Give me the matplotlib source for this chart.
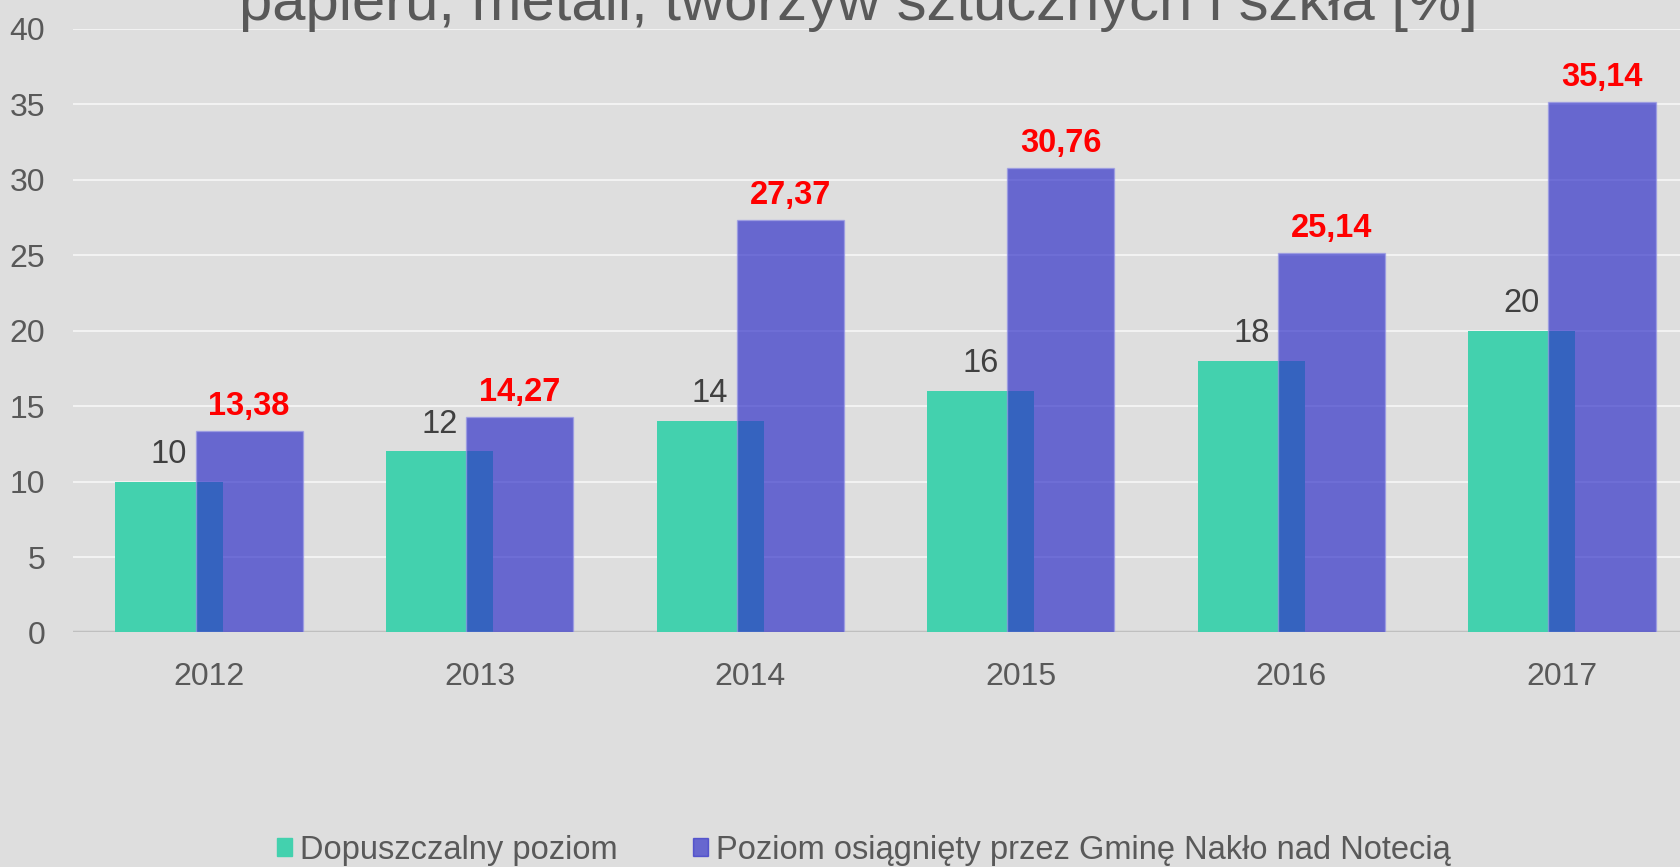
import matplotlib
matplotlib.use("Agg")
import matplotlib.pyplot as plt
from matplotlib.patches import Patch
import numpy as np

plt.rcParams['font.family'] = ['Liberation Sans', 'DejaVu Sans']

# data
years = ['2012', '2013', '2014', '2015', '2016', '2017']
dopuszczalny = [10, 12, 14, 16, 18, 20]
osiagniety = [13.38, 14.27, 27.37, 30.76, 25.14, 35.14]
title_line = 'papieru, metali, tworzyw sztucznych i szkła [%]'
legend_labels = ['Dopuszczalny poziom', 'Poziom osiągnięty przez Gminę Nakło nad Notecią']

bg = '#DEDEDE'
green = '#43D1AE'
purple = '#2F2FC8'
txt = '#595959'

fig = plt.figure(figsize=(16.81, 8.67), dpi=100, facecolor=bg)
ax = fig.add_axes([0.0434, 0.2705, 0.9566, 0.6961])
ax.set_facecolor(bg)

x = np.arange(len(years))
w = 0.396
off = 0.148

ax.bar(x - off, dopuszczalny, w, color=green, zorder=2)
ax.bar(x + off, osiagniety, w, color=purple, alpha=0.68,
       edgecolor='#9a9ae6', linewidth=1, zorder=3)

for xi, v in zip(x, dopuszczalny):
    ax.annotate(str(v), (xi - off, v), xytext=(0, 13.5), textcoords='offset points',
                ha='center', va='baseline', fontsize=23.5, color='#404040')
for xi, v in zip(x, osiagniety):
    ax.annotate(f'{v:.2f}'.replace('.', ','), (xi + off, v), xytext=(0, 11.5),
                textcoords='offset points', ha='center', va='baseline',
                fontsize=23.5, color='red', fontweight='bold')

ax.set_ylim(0, 40)
ax.set_xlim(-0.503, 5.44)
ax.set_yticks(range(0, 41, 5))
ax.set_xticks(x)
ax.set_xticklabels(years)
ax.tick_params(axis='both', length=0, labelsize=23, labelcolor=txt)
ax.tick_params(axis='y', pad=20)
ax.tick_params(axis='x', pad=21)
ax.grid(axis='y', color='#F2F2F2', linewidth=1.5, zorder=0)
ax.set_axisbelow(True)
ax.axhline(0, color='#BFBFBF', linewidth=2.5, zorder=1)
for s in ax.spines.values():
    s.set_visible(False)

fig.text(0.5107, 0.9765, title_line, ha='center', va='baseline', fontsize=43, color=txt)

handles = [Patch(color=green), Patch(color=purple, alpha=0.68)]
fig.legend(handles, legend_labels, loc='center', bbox_to_anchor=(0.514, 0.0195), ncol=2,
           frameon=False, fontsize=23.5, labelcolor=txt, handlelength=0.45, handleheight=0.45,
           handletextpad=0.25, columnspacing=2.3, borderpad=0, borderaxespad=0)

fig.savefig('out.png', dpi=100, facecolor=bg)
